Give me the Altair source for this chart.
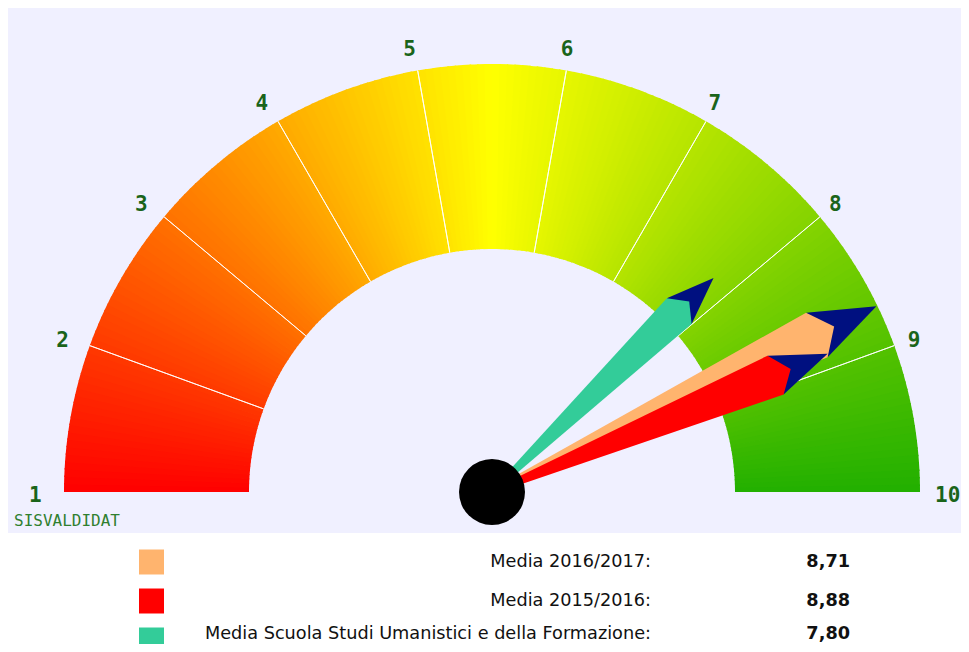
import math
import altair as alt
import pandas as pd

# ---------------- data ----------------
series_labels = [
    "Media 2016/2017:",
    "Media 2015/2016:",
    "Media Scuola Studi Umanistici e della Formazione:",
]
series_values = [8.71, 8.88, 7.80]
series_value_text = ["8,71", "8,88", "7,80"]
tick_values = [1, 2, 3, 4, 5, 6, 7, 8, 9, 10]
gauge_domain = [1, 10]
credit_text = "SISVALDIDAT"

# ---------------- style ----------------
series_colors = ["#FFB46E", "#FF0000", "#33CC99"]
needle_lengths = [427, 363, 308]      # px, tip distance from the pivot
needle_stack = [1, 2, 0]              # drawing order (teal, orange, red)
text_nudge = [0, 0, -6]               # keep the last legend row inside the page
head_color = "#001080"
gradient_stops = [1, 5.5, 10]
gradient_colors = ["#FF0000", "#FFFF00", "#22B000"]
gauge_bg = "#F0F0FF"
label_green = "#1A641A"
credit_green = "#2F7F2F"

W, H = 953, 525          # gauge panel
LW, LH = 953, 111        # legend panel (page ends here)
CX, CY = 484, 484        # pivot of the gauge inside the panel
R_OUT, R_IN = 428, 243
LABEL_R = 453
HUB_D = 66

BODY_PATH = "M-0.006,0L-0.058,-0.845L0,-0.89L0.058,-0.845L0.006,0Z"
HEAD_PATH = "M-0.058,-0.845L0,-1L0.058,-0.845Z"

xs = alt.Scale(domain=[-CX, W - CX], nice=False, zero=False)
ys = alt.Scale(domain=[CY - H, CY], nice=False, zero=False)
cx = alt.XDatum(0, scale=xs, axis=None, type="quantitative")
cy = alt.YDatum(0, scale=ys, axis=None, type="quantitative")
ts = alt.Scale(domain=gauge_domain, range=[-math.pi / 2, math.pi / 2], zero=False, nice=False)

# colour gradient of the dial, drawn as thin slices
grad = (
    alt.Chart(alt.sequence(0, 180, as_="i"))
    .transform_calculate(
        v="1 + datum.i * 0.05",
        v2="min(datum.v + 0.06, 10)",
        mid="datum.v + 0.025",
    )
    .mark_arc(radius=R_OUT, radius2=R_IN, strokeWidth=0)
    .encode(
        x=cx,
        y=cy,
        theta=alt.Theta("v:Q", scale=ts, stack=None),
        theta2="v2:Q",
        color=alt.Color(
            "mid:Q",
            scale=alt.Scale(domain=gradient_stops, range=gradient_colors, interpolate="rgb"),
            legend=None,
        ),
    )
)

sep_df = pd.DataFrame({"t": tick_values[1:-1]})
seps = (
    alt.Chart(sep_df)
    .mark_arc(radius=R_OUT, radius2=R_IN, fill="white", fillOpacity=0, stroke="white", strokeWidth=1, strokeOpacity=0.9)
    .encode(x=cx, y=cy, theta=alt.Theta("t:Q", scale=ts, stack=None), theta2="t:Q")
)

lab_df = pd.DataFrame({"t": tick_values, "txt": [str(t) for t in tick_values]})
labels = (
    alt.Chart(lab_df)
    .mark_text(
        radius=LABEL_R, align="left", baseline="middle", dx=-10, dy=4,
        font="DejaVu Sans Mono", fontWeight="bold", fontSize=21, color=label_green,
    )
    .encode(x=cx, y=cy, theta=alt.Theta("t:Q", scale=ts, stack=None), text="txt:N")
)

credit = (
    alt.Chart(pd.DataFrame({"txt": [credit_text]}))
    .mark_text(align="left", baseline="middle", font="DejaVu Sans Mono", fontSize=16, color=credit_green)
    .encode(x=alt.value(6), y=alt.value(513), text="txt:N")
)

rows = []
for lab, val, col, L, z in zip(series_labels, series_values, series_colors, needle_lengths, needle_stack):
    rows.append(dict(label=lab, value=val, path=HEAD_PATH, fill=head_color, size=4 * L * L, z=2 * z))
    rows.append(dict(label=lab, value=val, path=BODY_PATH, fill=col, size=4 * L * L, z=2 * z + 1))
needle_df = pd.DataFrame(rows)

needles = (
    alt.Chart(needle_df)
    .mark_point(filled=True, opacity=1, strokeWidth=0)
    .encode(
        x=cx,
        y=cy,
        shape=alt.Shape("path:N", scale=None),
        size=alt.Size("size:Q", scale=None),
        angle=alt.Angle("value:Q", scale=alt.Scale(domain=gauge_domain, range=[270, 450], zero=False, nice=False)),
        fill=alt.Fill("fill:N", scale=None),
        order=alt.Order("z:Q"),
    )
)

hub = (
    alt.Chart(pd.DataFrame({"k": [0]}))
    .mark_point(shape="circle", filled=True, size=HUB_D * HUB_D, color="black", opacity=1)
    .encode(x=cx, y=cy)
)

gauge = alt.layer(grad, seps, labels, credit, needles, hub).properties(
    width=W, height=H, view=alt.ViewBackground(fill=gauge_bg, stroke=None)
)

# ---------------- legend ----------------
leg_df = pd.DataFrame({
    "label": series_labels,
    "val": series_value_text,
    "color": series_colors,
    "nudge": text_nudge,
})
ly = alt.Y(
    "label:N",
    sort=series_labels,
    scale=alt.Scale(type="point", domain=series_labels, range=[29, 107], padding=0),
    axis=None,
)
nudge = alt.YOffset("nudge:Q", scale=None)
sw = (
    alt.Chart(leg_df)
    .mark_point(shape="square", filled=True, size=625, opacity=1, strokeWidth=0, clip=True)
    .encode(x=alt.value(143.5), y=ly, fill=alt.Fill("color:N", scale=None))
)
lt = (
    alt.Chart(leg_df)
    .mark_text(align="right", baseline="middle", font="DejaVu Sans", fontSize=17.7, color="#111111", clip=True)
    .encode(x=alt.value(643), y=ly, yOffset=nudge, text="label:N")
)
lv = (
    alt.Chart(leg_df)
    .mark_text(align="right", baseline="middle", font="DejaVu Sans", fontSize=17.7, fontWeight="bold",
               color="#111111", clip=True)
    .encode(x=alt.value(842), y=ly, yOffset=nudge, text="val:N")
)
legend = alt.layer(sw, lt, lv).properties(
    width=LW, height=LH, view=alt.ViewBackground(fill="white", stroke=None)
)

chart = (
    alt.vconcat(gauge, legend, spacing=0)
    .properties(padding=0)
    .configure_view(stroke=None)
)

chart.save("out.html", embed_options={"renderer": "svg", "actions": False})
